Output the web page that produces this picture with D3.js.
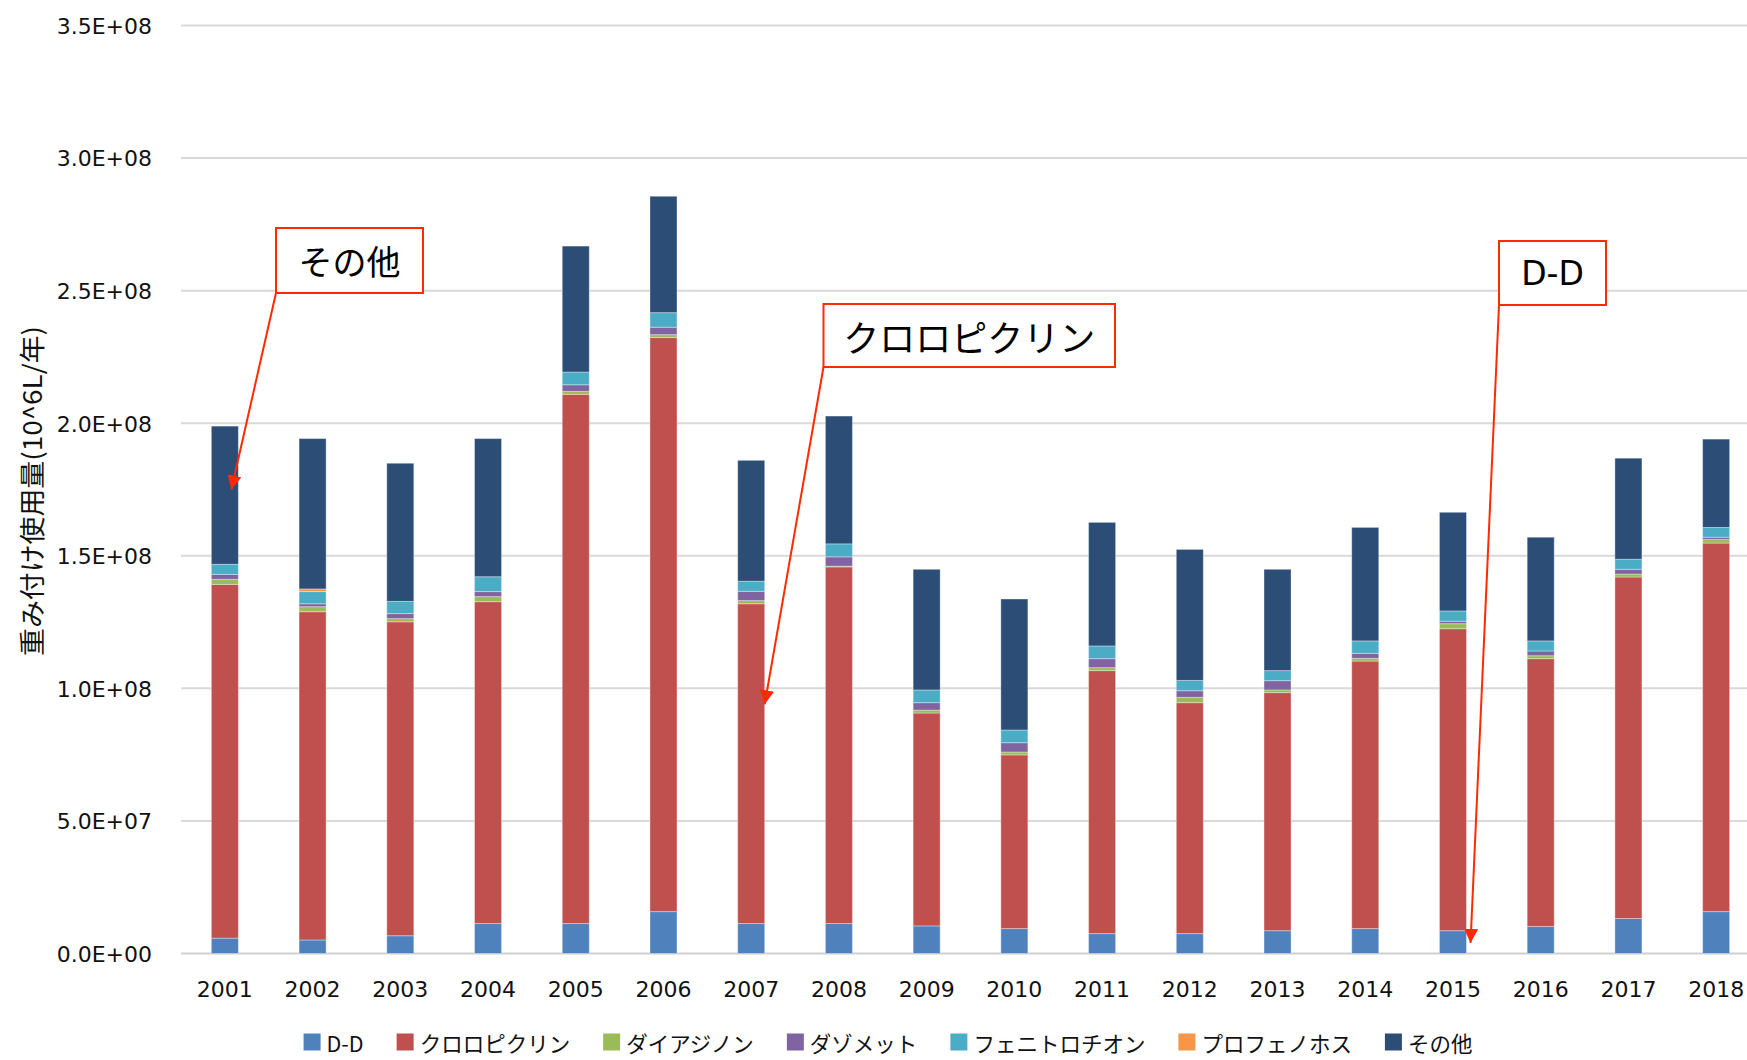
<!DOCTYPE html>
<html>
<head>
<meta charset="utf-8">
<script src="https://cdn.jsdelivr.net/npm/d3@7"></script>
<style>
  html, body { margin: 0; padding: 0; background: #ffffff; }
  svg { display: block; }
</style>
</head>
<body>
<script>
// ---------------- data ----------------
const years = ["2001","2002","2003","2004","2005","2006","2007","2008","2009","2010","2011","2012","2013","2014","2015","2016","2017","2018"];
const seriesNames = ["D-D","クロロピクリン","ダイアジノン","ダゾメット","フェニトロチオン","プロフェノホス","その他"];
const seriesColors = ["#4F81BD","#C0504D","#9BBB59","#8064A2","#4BACC6","#F79646","#2C4D75"];
// values in units of 1e6
const ddValues           = [5.8, 5.1, 6.7, 11.3, 11.3, 15.8, 11.3, 11.3, 10.4, 9.4, 7.5, 7.5, 8.6, 9.4, 8.6, 10.2, 13.2, 15.8];
const chloropicrinValues = [133.4, 123.8, 118.4, 121.4, 199.6, 216.5, 120.6, 134.5, 80.3, 65.5, 99.2, 87.1, 89.8, 100.9, 113.9, 101.0, 128.8, 139.0];
const diazinonValues     = [1.9, 1.9, 1.2, 1.9, 1.1, 1.1, 1.2, 0.3, 1.1, 1.1, 1.1, 2.0, 1.0, 1.0, 1.9, 1.1, 1.1, 1.3];
const dazometValues      = [1.9, 1.1, 1.9, 1.9, 2.5, 2.8, 3.5, 3.5, 2.8, 3.5, 3.4, 2.5, 3.5, 1.9, 0.9, 1.8, 1.8, 0.9];
const fenitrothionValues = [3.8, 4.6, 4.6, 5.6, 4.8, 5.5, 3.8, 4.9, 4.8, 4.8, 4.8, 3.9, 3.8, 4.7, 3.9, 3.8, 3.8, 3.7];
const profenofosValues   = [0, 1.0, 0, 0, 0, 0, 0, 0, 0, 0, 0, 0, 0, 0, 0, 0, 0, 0];
const otherValues        = [52.1, 56.7, 52.1, 52.1, 47.5, 43.9, 45.6, 48.2, 45.5, 49.4, 46.6, 49.4, 38.2, 42.8, 37.2, 39.1, 38.1, 33.3];
const yTickValues = [0, 5e7, 1e8, 1.5e8, 2e8, 2.5e8, 3e8, 3.5e8];
const yTitle = "重み付け使用量(10^6L/年)";
const annotationLabels = ["その他", "クロロピクリン", "D-D"];
const annotationTargets = [ {year:"2001", value:1.75e8}, {year:"2007", value:0.94e8}, {year:"2015", value:0.04e8} ];

// ---------------- build table ----------------
const seriesArrays = [ddValues, chloropicrinValues, diazinonValues, dazometValues, fenitrothionValues, profenofosValues, otherValues];
const table = years.map((y, i) => {
  const row = { year: y };
  seriesNames.forEach((s, k) => { row[s] = seriesArrays[k][i] * 1e6; });
  return row;
});

// ---------------- layout ----------------
const W = 1747, H = 1060;
const plotLeft = 181, plotRight = 1760, plotTop = 25.5, plotBottom = 953.5;
const FONT_LATIN = "'DejaVu Sans', Verdana, sans-serif";
const FONT_JP = "'Noto Sans CJK JP', 'Noto Sans', sans-serif";
const RED = "#FF2A00";

const svg = d3.select("body").append("svg").attr("width", W).attr("height", H);

const x = d3.scaleBand().domain(years).range([plotLeft, plotRight]).paddingInner(0.692).paddingOuter(0.346);
const y = d3.scaleLinear().domain([0, 3.5e8]).range([plotBottom, plotTop]);

const fmtE = v => {
  const s = v.toExponential(1);
  const [m, e] = s.split("e");
  const sign = e[0];
  const digits = e.slice(1).padStart(2, "0");
  return m + "E" + sign + digits;
};

// gridlines
svg.append("g").selectAll("line").data(yTickValues).join("line")
  .attr("x1", plotLeft).attr("x2", plotRight)
  .attr("y1", d => y(d)).attr("y2", d => y(d))
  .attr("stroke", d => d === 0 ? "#cfcfcf" : "#d9d9d9")
  .attr("stroke-width", 2);

// y axis labels
const yAxis = d3.axisLeft(y).tickValues(yTickValues).tickFormat(fmtE).tickSize(0).tickPadding(0);
const gy = svg.append("g").attr("transform", `translate(152,0)`).call(yAxis);
gy.select(".domain").remove();
gy.selectAll("text").attr("font-family", FONT_LATIN).attr("font-size", 22).attr("fill", "#111").attr("dy", "0.36em");

// x axis labels
const xAxis = d3.axisBottom(x).tickSize(0).tickPadding(0);
const gx = svg.append("g").attr("transform", `translate(0,${plotBottom})`).call(xAxis);
gx.select(".domain").remove();
gx.selectAll("text").attr("font-family", FONT_LATIN).attr("font-size", 22).attr("fill", "#111")
  .attr("y", 36).attr("dy", "0.36em");

// stacked bars
const stack = d3.stack().keys(seriesNames);
const stacked = stack(table);
svg.append("g").selectAll("g").data(stacked).join("g")
  .attr("fill", (d, i) => seriesColors[i])
  .selectAll("rect").data(d => d).join("rect")
  .attr("x", d => x(d.data.year))
  .attr("width", x.bandwidth())
  .attr("y", d => y(d[1]))
  .attr("height", d => Math.max(0, y(d[0]) - y(d[1])))
  .attr("stroke", "rgba(255,255,255,0.35)")
  .attr("stroke-width", 1);

// y title
svg.append("text")
  .attr("transform", "translate(30,491) rotate(-90)")
  .attr("text-anchor", "middle")
  .attr("dominant-baseline", "central")
  .attr("font-family", FONT_JP)
  .attr("font-size", 26)
  .attr("textLength", 330)
  .attr("lengthAdjust", "spacingAndGlyphs")
  .attr("fill", "#111")
  .text(yTitle);

// legend
const legend = svg.append("g");
const items = [];
seriesNames.forEach((name, i) => {
  const g = legend.append("g");
  g.append("rect").attr("x", 0).attr("y", -8.5).attr("width", 17).attr("height", 17).attr("fill", seriesColors[i]);
  const t = g.append("text").attr("x", 23).attr("y", 0).attr("dominant-baseline", "central")
    .attr("font-family", FONT_JP).attr("font-size", 21.5).attr("fill", "#111").text(name);
  const w = 23 + t.node().getComputedTextLength();
  items.push({ g, w });
});
const gap = 33;
const totalW = d3.sum(items, d => d.w) + gap * (items.length - 1);
let cx = 888 - totalW / 2;
items.forEach(it => { it.g.attr("transform", `translate(${cx},1042)`); cx += it.w + gap; });

// annotations (callouts)
const defs = svg.append("defs");
defs.append("marker").attr("id", "arrowhead")
  .attr("viewBox", "0 0 14 14").attr("refX", 14).attr("refY", 7)
  .attr("markerWidth", 14).attr("markerHeight", 14)
  .attr("markerUnits", "userSpaceOnUse").attr("orient", "auto")
  .append("path").attr("d", "M0,0L14,7L0,14Z").attr("fill", RED);

const boxes = [
  { x: 276, y: 228, w: 147, h: 65, font: FONT_JP, size: 34, tipDx: 0.74 },
  { x: 823.5, y: 304, w: 291.5, h: 63, font: FONT_JP, size: 36, tipDx: 1.0 },
  { x: 1499, y: 241, w: 107, h: 64, font: FONT_LATIN, size: 33, tipDx: 1.15 }
];
boxes.forEach((b, i) => {
  const tgt = annotationTargets[i];
  const tx = x(tgt.year) + x.bandwidth() * b.tipDx;
  const ty = y(tgt.value);
  svg.append("line")
    .attr("x1", b.x).attr("y1", b.y + b.h)
    .attr("x2", tx).attr("y2", ty)
    .attr("stroke", RED).attr("stroke-width", 2)
    .attr("marker-end", "url(#arrowhead)");
  svg.append("rect").attr("x", b.x).attr("y", b.y).attr("width", b.w).attr("height", b.h)
    .attr("fill", "#fff").attr("stroke", RED).attr("stroke-width", 2);
  svg.append("text").attr("x", b.x + b.w / 2).attr("y", b.y + b.h / 2)
    .attr("text-anchor", "middle").attr("dominant-baseline", "central")
    .attr("font-family", b.font).attr("font-size", b.size).attr("fill", "#000")
    .text(annotationLabels[i]);
});
</script>
</body>
</html>
